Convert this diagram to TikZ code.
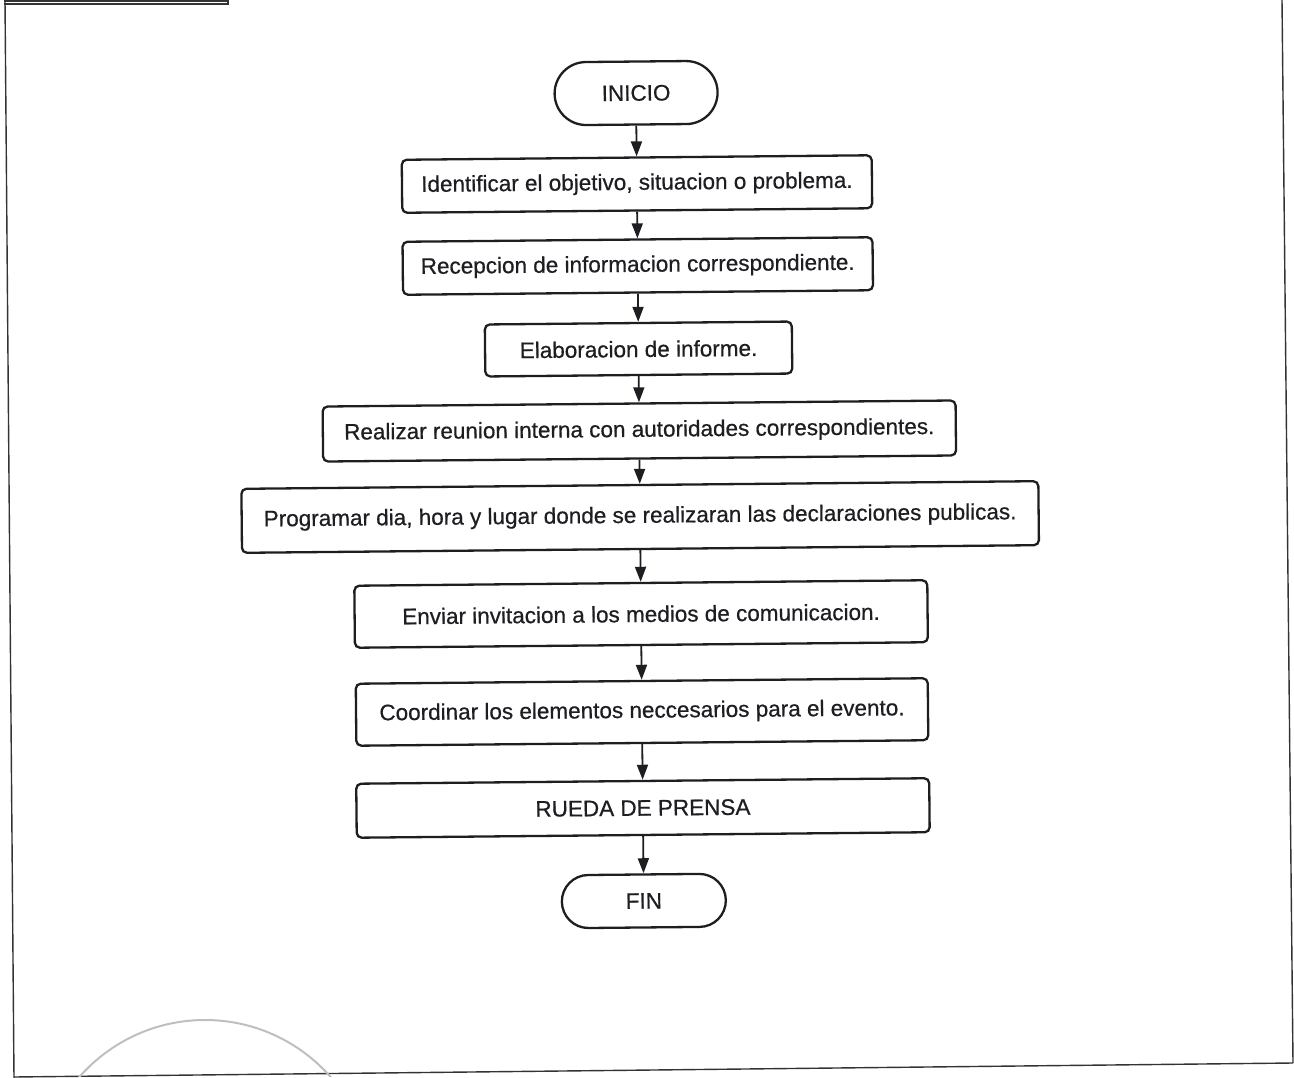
\documentclass[tikz,border=0pt]{standalone}
\usepackage{fontspec}
\setmainfont{Liberation Sans}
\newfontfamily\boxfont{Liberation Sans}[FakeBold=0.6]
\usetikzlibrary{arrows.meta,shapes.misc}
\definecolor{ink}{HTML}{1E1E22}
\begin{document}
\begin{tikzpicture}[x=1pt,y=-1pt,
  stepbox/.style={draw=ink, line width=2.3pt, rounded corners=5pt, inner sep=0pt,
    font=\boxfont\fontsize{22.5}{27}\selectfont, text=ink},
  term/.style={draw=ink, line width=2.3pt, rounded rectangle, inner sep=0pt,
    font=\boxfont\fontsize{22.5}{27}\selectfont, text=ink},
  flow/.style={draw=ink, line width=1.8pt, -{Triangle[width=11pt,length=15pt]}},
  edge/.style={draw=black!80, line width=1.4pt},
  stamp/.style={draw=black!25, line width=2pt}]
\useasboundingbox (0,0) rectangle (1294,1078);

% page border
\draw[edge] (4,1) -- (228,1) -- (228,4) -- (4,4);
\draw[edge] (5,0) -- (14,1078);
\draw[edge] (1282,0) -- (1293,1063);
\draw[edge] (14,1077) -- (1293,1063);

% seal in the lower left corner
\begin{scope}
  \clip (14,900) rectangle (600,1076);
  \draw[stamp] (205,1187) circle[radius=167];
\end{scope}

% flowchart
\begin{scope}[rotate around={0.55:(640,500)}, transform shape]
  \node[term, minimum width=163pt, minimum height=63pt] (inicio) at (640,93) {INICIO};
  \node[stepbox, minimum width=470pt, minimum height=53pt] (s1) at (640,184) {Identificar el objetivo, situacion o problema.};
  \node[stepbox, minimum width=470pt, minimum height=53pt] (s2) at (640,266) {Recepcion de informacion correspondiente.};
  \node[stepbox, minimum width=307pt, minimum height=52pt] (s3) at (640,349) {Elaboracion de informe.};
  \node[stepbox, minimum width=633pt, minimum height=55pt] (s4) at (640,431) {Realizar reunion interna con autoridades correspondientes.};
  \node[stepbox, minimum width=797pt, minimum height=64pt] (s5) at (640,517) {Programar dia, hora y lugar donde se realizaran las declaraciones publicas.};
  \node[stepbox, minimum width=573pt, minimum height=62pt] (s6) at (640,614) {Enviar invitacion a los medios de comunicacion.};
  \node[stepbox, minimum width=572pt, minimum height=62pt] (s7) at (640,712) {Coordinar los elementos neccesarios para el evento.};
  \node[stepbox, minimum width=573pt, minimum height=54pt] (s8) at (640,808) {RUEDA DE PRENSA};
  \node[term, minimum width=164pt, minimum height=53pt] (fin) at (640,901) {FIN};

  \draw[flow] (inicio) -- (s1);
  \draw[flow] (s1) -- (s2);
  \draw[flow] (s2) -- (s3);
  \draw[flow] (s3) -- (s4);
  \draw[flow] (s4) -- (s5);
  \draw[flow] (s5) -- (s6);
  \draw[flow] (s6) -- (s7);
  \draw[flow] (s7) -- (s8);
  \draw[flow] (s8) -- (fin);
\end{scope}
\end{tikzpicture}
\end{document}
